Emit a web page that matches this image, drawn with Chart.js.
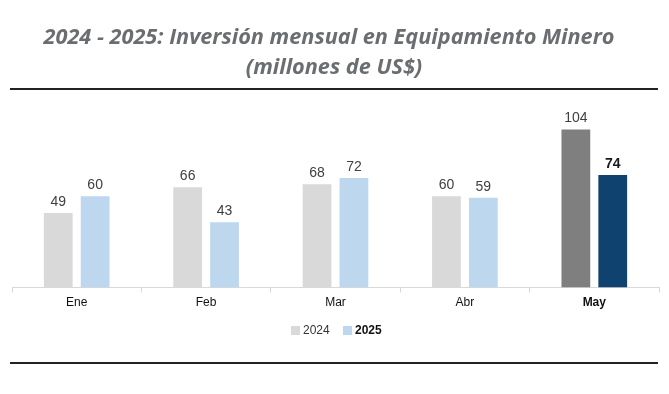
<!DOCTYPE html>
<html>
<head>
<meta charset="utf-8">
<script src="https://cdn.jsdelivr.net/npm/chart.js@4"></script>
<style>
  html, body { margin: 0; padding: 0; background: #fff; }
  #wrap { width: 669px; height: 394px; position: relative; }
</style>
</head>
<body>
<div id="wrap"><canvas id="chart" width="669" height="394"></canvas></div>
<script>
const months = ['Ene', 'Feb', 'Mar', 'Abr', 'May'];
const values2024 = [49, 66, 68, 60, 104];
const values2025 = [60, 43, 72, 59, 74];
const seriesNames = ['2024', '2025'];
const titleLines = ['2024 - 2025: Inversión mensual en Equipamiento Minero', '(millones de US$)'];

const colors2024 = ['#d9d9d9', '#d9d9d9', '#d9d9d9', '#d9d9d9', '#7f7f7f'];
const colors2025 = ['#bdd7ee', '#bdd7ee', '#bdd7ee', '#bdd7ee', '#0f426f'];

// titulo, lineas, etiquetas y leyenda
const extras = {
  id: 'extras',
  afterDraw(chart) {
    const c = chart.ctx;
    c.save();
    c.fillStyle = '#6b6e71';
    c.font = 'italic bold 21.7px "Open Sans"';
    c.textAlign = 'center';
    c.textBaseline = 'middle';
    c.fillText(titleLines[0], 329, 38);
    c.fillText(titleLines[1], 334, 68);

    c.strokeStyle = '#222';
    c.lineWidth = 2;
    c.beginPath();
    c.moveTo(10, 89); c.lineTo(658, 89);
    c.stroke();
    c.beginPath();
    c.moveTo(10, 363); c.lineTo(658, 363);
    c.stroke();

    // valores
    chart.data.datasets.forEach((ds, di) => {
      chart.getDatasetMeta(di).data.forEach((bar, i) => {
        c.fillStyle = i === 4 && di === 1 ? '#1a1a1a' : '#404040';
        c.font = (i === 4 && di === 1 ? 'bold ' : '') + '14px "Liberation Sans"';
        c.textBaseline = 'alphabetic';
        c.fillText(ds.data[i], bar.x, bar.y - 7);
      });
    });

    // leyenda
    c.textBaseline = 'middle';
    c.textAlign = 'left';
    c.fillStyle = '#d9d9d9';
    c.fillRect(291, 326, 9, 9);
    c.fillStyle = '#333';
    c.font = '12px "Liberation Sans"';
    c.fillText(seriesNames[0], 303, 331);
    c.fillStyle = '#bdd7ee';
    c.fillRect(343, 326, 9, 9);
    c.fillStyle = '#111';
    c.font = 'bold 12px "Liberation Sans"';
    c.fillText(seriesNames[1], 355, 331);
    c.restore();
  }
};

new Chart(document.getElementById('chart'), {
  type: 'bar',
  data: {
    labels: months,
    datasets: [
      { label: seriesNames[0], data: values2024, backgroundColor: colors2024 },
      { label: seriesNames[1], data: values2025, backgroundColor: colors2025 }
    ]
  },
  options: {
    responsive: false,
    animation: false,
    categoryPercentage: 0.57,
    barPercentage: 0.78,
    layout: { padding: { top: 102, left: 12, right: 10, bottom: 81 } },
    plugins: { legend: { display: false }, tooltip: { enabled: false } },
    scales: {
      y: { display: false, min: 0, max: 122 },
      x: {
        border: { display: true, color: '#d9d9d9' },
        grid: { offset: true, drawOnChartArea: false, color: '#d9d9d9', tickLength: 5 },
        ticks: {
          color: '#111',
          padding: 3,
          font: (ctx) => ({ family: 'Liberation Sans', size: 12, weight: ctx.index === 4 ? 'bold' : 'normal' })
        }
      }
    }
  },
  plugins: [extras]
});
</script>
</body>
</html>
